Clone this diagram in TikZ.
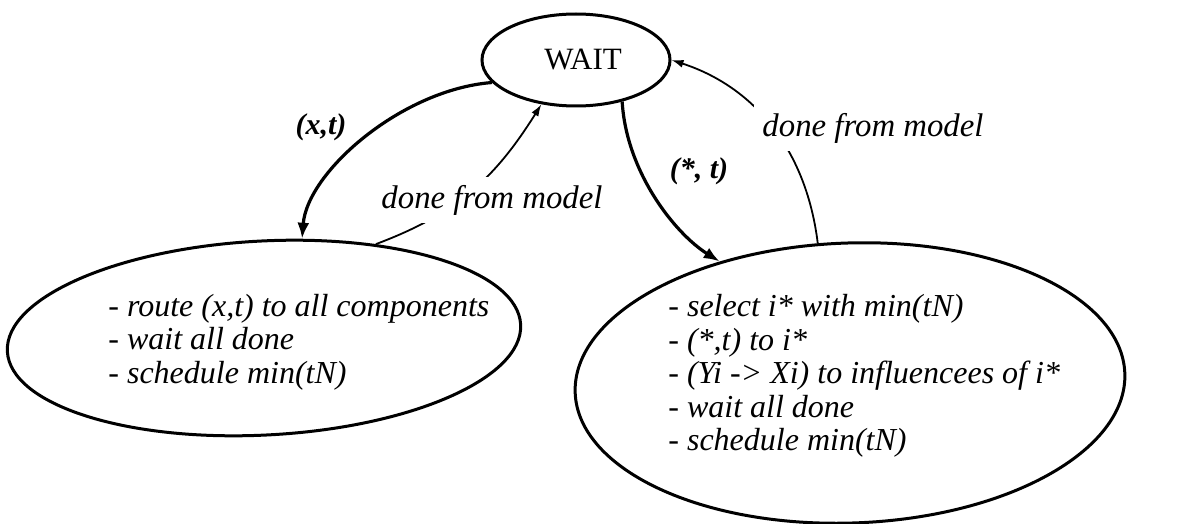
\documentclass[tikz,border=0pt]{standalone}
\usepackage{fontspec}
\setmainfont{Liberation Serif}
\usetikzlibrary{arrows.meta,shapes.geometric}

\begin{document}
\begin{tikzpicture}[x=0.5pt,y=-0.5pt,
  state/.style={draw,ellipse,line width=1.5pt,inner sep=0pt},
  body/.style={font=\fontsize{16}{16.75}\selectfont\itshape,align=left,anchor=west,inner sep=0pt},
  trans/.style={line width=1.6pt,-{Latex[length=8pt,width=6pt]}},
  reply/.style={line width=0.9pt,-{Latex[length=6pt,width=4pt]}},
  lab/.style={font=\fontsize{15}{18}\selectfont\bfseries\itshape,inner sep=1pt},
  donelab/.style={font=\fontsize{16.4}{18}\selectfont\itshape,fill=white,inner sep=4pt}
]
\useasboundingbox (0,0) rectangle (1178,524);

% states
\node[state,minimum width=94pt,minimum height=46pt,font=\fontsize{15.5}{18}\selectfont] (wait) at (576,60) {\hspace*{7pt}WAIT};
\node[state,minimum width=257pt,minimum height=97pt,rotate=3] (left) at (264,338) {};
\node[state,minimum width=275pt,minimum height=140pt,rotate=2] (right) at (850,383) {};

% actions inside the states
\node[body] (lefttext) at (108,342) {- route (x,t) to all components\\- wait all done\\- schedule min(tN)};
\node[body] (righttext) at (668,376) {- select i* with min(tN)\\- (*,t) to i*\\- (Yi -> Xi) to influencees of i*\\- wait all done\\- schedule min(tN)};

% transitions out of WAIT
\draw[trans] (wait.195) .. controls +(-90,7) and +(5,-67) .. (left.66);
\draw[trans] (wait.-42) .. controls +(4,70) and +(-45,-28) .. (right.135);
\node[lab] (xt) at (321,127) {(x,t)};
\node[lab] (st) at (699,171) {(*, t)};

% replies back to WAIT
\draw[reply] (left.37) .. controls +(80,-30) and +(-47,75) .. (wait.232);
\draw[reply] (right.101) .. controls +(-11,-90) and +(86,28) .. (wait.east);
\node[donelab] (doneL) at (492,200) {done from model};
\node[donelab] (doneR) at (873,128) {done from model};
\end{tikzpicture}
\end{document}
